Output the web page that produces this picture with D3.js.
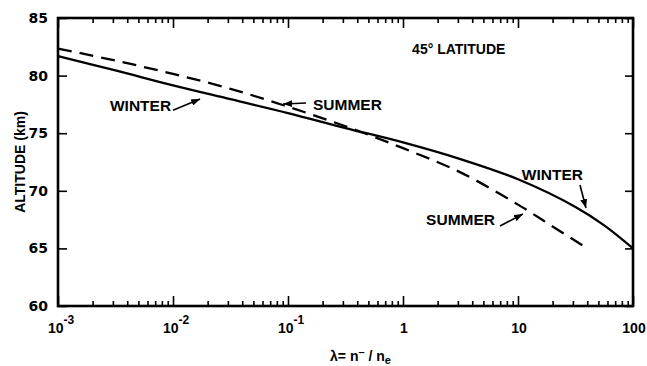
<!DOCTYPE html>
<html>
<head>
<meta charset="utf-8">
<script src="https://cdn.jsdelivr.net/npm/d3@7"></script>
<style>
    body { margin: 0; background: #fff; }
    svg text { font-family: "Liberation Sans", Arial, sans-serif; font-weight: bold; fill: #000; }
    .tick line { stroke: #000; stroke-width: 1.6; }
</style>
</head>
<body>
<div id="chart"></div>
<script>
// lambda = n-/ne vs altitude
const winterLambda = [0.001, 0.00316, 0.01, 0.0316, 0.1, 0.316, 1, 3.16, 10, 31.6, 56.2, 100];
const winterAlt = [81.7, 80.45, 79.15, 77.95, 76.75, 75.45, 74.2, 72.75, 71.0, 68.6, 67.0, 65.0];
const summerLambda = [0.001, 0.00316, 0.01, 0.0316, 0.1, 0.316, 1, 3.16, 10, 20, 40];
const summerAlt = [82.35, 81.3, 80.15, 78.85, 77.3, 75.6, 73.7, 71.6, 68.8, 66.9, 65.0];

const xMajor = [0.001, 0.01, 0.1, 1, 10, 100];
const xMajorBase = ["10", "10", "10", "1", "10", "100"];
const xMajorExp = ["-3", "-2", "-1", "", "", ""];
const yTicks = [60, 65, 70, 75, 80, 85];

// labels + arrows, placed in data coords (lambda, km)
const labels = [
    {text: "WINTER", at: [0.00283, 76.93], anchor: "start"},
    {text: "SUMMER", at: [0.165, 77.0], anchor: "start"},
    {text: "WINTER", at: [10.8, 70.94], anchor: "start"},
    {text: "SUMMER", at: [6.31, 67.03], anchor: "end"}
];
const arrows = [
    {from: [0.01, 77.0], to: [0.0172, 77.97]},
    {from: [0.1436, 77.62], to: [0.0906, 77.53]},
    {from: [34.6, 70.5], to: [39.0, 68.51]},
    {from: [6.97, 66.94], to: [11.04, 67.99]}
];

class AltitudeChart {
    constructor() {
        this.width = 647;
        this.height = 366;
        this.margin = {top: 18, right: 14, bottom: 60, left: 58};

        this.svg = d3.select("#chart").append("svg")
            .attr("width", this.width)
            .attr("height", this.height);

        this.x = d3.scaleLog()
            .domain([1e-3, 100])
            .range([this.margin.left, this.width - this.margin.right]);
        this.y = d3.scaleLinear()
            .domain([60, 85])
            .range([this.height - this.margin.bottom, this.margin.top]);

        this.svg.append("defs").append("marker")
            .attr("id", "arrowhead")
            .attr("markerUnits", "userSpaceOnUse")
            .attr("viewBox", "0 0 9 7")
            .attr("refX", 9)
            .attr("refY", 3.5)
            .attr("markerWidth", 9)
            .attr("markerHeight", 7)
            .attr("orient", "auto")
            .append("path")
            .attr("d", "M0,0 L9,3.5 L0,7 Z")
            .attr("fill", "#000");
    }

    drawAxes() {
        let x = this.x, y = this.y;
        let minor = [];
        for (let d = -3; d < 2; d++) {
            for (let k = 2; k < 10; k++) minor.push(k * Math.pow(10, d));
        }
        let bottom = this.height - this.margin.bottom;
        let top = this.margin.top;
        let left = this.margin.left;
        let right = this.width - this.margin.right;

        //ticks point inward on all four sides
        let groups = [
            {axis: d3.axisBottom(x).tickValues(minor).tickSize(-5), pos: "translate(0," + bottom + ")"},
            {axis: d3.axisBottom(x).tickValues(xMajor).tickSize(-10), pos: "translate(0," + bottom + ")"},
            {axis: d3.axisTop(x).tickValues(minor).tickSize(-5), pos: "translate(0," + top + ")"},
            {axis: d3.axisTop(x).tickValues(xMajor).tickSize(-10), pos: "translate(0," + top + ")"},
            {axis: d3.axisLeft(y).tickValues(yTicks).tickSize(-9), pos: "translate(" + left + ",0)"},
            {axis: d3.axisRight(y).tickValues(yTicks).tickSize(-8), pos: "translate(" + right + ",0)"}
        ];
        groups.forEach((g) => {
            let ax = this.svg.append("g")
                .attr("transform", g.pos)
                .call(g.axis.tickFormat(""));
            ax.select(".domain").remove();
        });

        this.svg.append("rect")
            .attr("x", left)
            .attr("y", top)
            .attr("width", right - left)
            .attr("height", bottom - top)
            .attr("fill", "none")
            .attr("stroke", "#000")
            .attr("stroke-width", 2.6);

        // y tick labels
        this.svg.append("g").selectAll("text")
            .data(yTicks)
            .enter().append("text")
            .attr("x", left - 10)
            .attr("y", (d) => y(d) + 5)
            .attr("text-anchor", "end")
            .style("font-family", "'DejaVu Sans', sans-serif")
            .style("font-size", "14px")
            .text((d) => d);

        // x tick labels, powers of ten
        let xl = this.svg.append("g").selectAll("text")
            .data(xMajor)
            .enter().append("text")
            .attr("x", (d, i) => x(d) + (xMajorExp[i] ? 3 : 1))
            .attr("y", bottom + 27)
            .attr("text-anchor", "middle")
            .style("font-size", "14px");
        xl.append("tspan").text((d, i) => xMajorBase[i]);
        xl.append("tspan")
            .attr("dy", -9)
            .style("font-size", "12px")
            .text((d, i) => xMajorExp[i]);

        // axis titles
        let xt = this.svg.append("text")
            .attr("x", (left + right) / 2 + 15)
            .attr("y", this.height - 5)
            .attr("text-anchor", "middle")
            .style("font-size", "14px");
        xt.append("tspan").text("\u03bb= n");
        xt.append("tspan").attr("dy", -5).style("font-size", "11px").text("\u2013");
        xt.append("tspan").attr("dy", 5).text(" / n");
        xt.append("tspan").attr("dy", 3).style("font-size", "11px").text("e");

        this.svg.append("text")
            .attr("transform", "translate(25," + ((top + bottom) / 2) + ") rotate(-90)")
            .attr("text-anchor", "middle")
            .style("font-size", "14px")
            .text("ALTITUDE (km)");
    }

    drawCurves() {
        let line = d3.line()
            .x((d) => this.x(d[0]))
            .y((d) => this.y(d[1]))
            .curve(d3.curveCatmullRom.alpha(0.5));

        let winter = winterLambda.map((v, i) => [v, winterAlt[i]]);
        let summer = summerLambda.map((v, i) => [v, summerAlt[i]]);

        this.svg.append("path")
            .datum(winter)
            .attr("d", line)
            .attr("fill", "none")
            .attr("stroke", "#000")
            .attr("stroke-width", 2.3);

        this.svg.append("path")
            .datum(summer)
            .attr("d", line)
            .attr("fill", "none")
            .attr("stroke", "#000")
            .attr("stroke-width", 2.3)
            .attr("stroke-dasharray", "14,8");
    }

    drawNotes() {
        let x = this.x, y = this.y;
        this.svg.append("text")
            .attr("x", x(1.2))
            .attr("y", y(81.85))
            .style("font-size", "14px")
            .text("45\u00b0 LATITUDE");

        this.svg.append("g").selectAll("text")
            .data(labels)
            .enter().append("text")
            .attr("x", (d) => x(d.at[0]))
            .attr("y", (d) => y(d.at[1]))
            .attr("text-anchor", (d) => d.anchor)
            .style("font-size", "15.5px")
            .text((d) => d.text);

        this.svg.append("g").selectAll("line")
            .data(arrows)
            .enter().append("line")
            .attr("x1", (d) => x(d.from[0]))
            .attr("y1", (d) => y(d.from[1]))
            .attr("x2", (d) => x(d.to[0]))
            .attr("y2", (d) => y(d.to[1]))
            .attr("stroke", "#000")
            .attr("stroke-width", 1.6)
            .attr("marker-end", "url(#arrowhead)");
    }
}

let chart = new AltitudeChart();
chart.drawAxes();
chart.drawCurves();
chart.drawNotes();
</script>
</body>
</html>
